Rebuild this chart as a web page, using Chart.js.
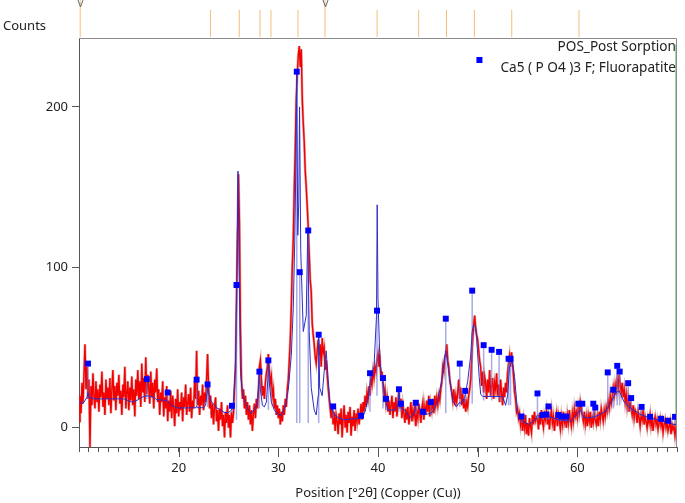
<!DOCTYPE html>
<html>
<head>
<meta charset="utf-8">
<script src="https://cdn.jsdelivr.net/npm/chart.js@4.4.0/dist/chart.umd.min.js"></script>
<style>
    html, body { margin: 0; padding: 0; background: #fff; }
    #wrap { width: 685px; height: 503px; }
</style>
</head>
<body>
<div id="wrap"><canvas id="xrd_chart" width="685" height="503"></canvas></div>
<script>
/////////////////////////////////// DATA ///////////////////////////////////

// observed scan, 10.0 .. 70.0 °2θ in 0.1 steps (one row per degree)
const scanStart = 10;
const scanStep = 0.1;
const observedCounts = [
    4, 20, 9, 28, 15, 33, 52, 24, 38, 18,
    30, -12, 26, 14, 34, 20, 12, 29, 16, 24,
    10, 27, 19, 35, 13, 22, 8, 30, 18, 25,
    14, 31, 9, 24, 36, 17, 26, 11, 28, 20,
    33, 15, 23, 8, 27, 19, 38, 12, 22, 29,
    11, 25, 17, 32, 14, 24, 7, 30, 20, 36,
    18, 29, 13, 40, 22, 31, 16, 44, 21, 33,
    25, 15, 35, 19, 28, 12, 30, 22, 37, 16,
    24, 8, 22, 16, 29, 7, 19, 12, 26, 4,
    17, 10, 23, 6, 20, 13, 1, 18, 9, 24,
    7, 16, 11, 22, 4, 19, 13, 27, 8, 15,
    21, 10, 25, 6, 17, 12, 29, 18, 48, 14,
    23, 8, 20, 14, 27, 11, 22, 16, 30, 46,
    26, 12, 20, 6, 15, 2, 13, 19, 4, 11,
    -2, 12, 5, 16, 1, 8, -6, 10, 3, 14,
    0, 8, -6, 10, 3, 9, 24, 36, 75, 118,
    158, 128, 62, 30, 18, 24, 12, 20, 8, 16,
    5, 14, 2, 11, -2, 9, 15, 6, 18, 12,
    22, 38, 42, 30, 20, 26, 18, 28, 34, 38,
    46, 36, 28, 32, 20, 24, 12, 18, 8, 14,
    6, 12, 2, 10, 4, 14, 8, 18, 13, 24,
    30, 42, 55, 75, 100, 118, 150, 175, 205, 220,
    232, 238, 225, 236, 205, 190, 178, 160, 150, 138,
    125, 108, 92, 85, 65, 58, 52, 44, 40, 48,
    55, 45, 52, 38, 56, 47, 50, 36, 42, 33,
    25, 18, 12, 6, 14, 2, 10, -2, 8, 4,
    -4, 9, 2, 12, -6, 6, 14, 0, 8, -3,
    10, 3, 13, -5, 7, 1, 11, -2, 9, 4,
    12, 2, 8, 15, 5, 16, 10, 20, 13, 22,
    18, 26, 20, 30, 27, 35, 31, 38, 35, 42,
    46, 38, 42, 30, 35, 26, 20, 24, 15, 19,
    10, 17, 8, 14, 20, 6, 16, 10, 19, 7,
    15, 24, 12, 18, 6, 14, 9, 3, 12, 5,
    13, 2, 9, 16, 4, 11, 7, 14, 1, 10,
    6, 15, 9, 3, 12, 16, 5, 13, 8, 17,
    10, 20, 7, 15, 11, 18, 9, 20, 14, 19,
    14, 20, 17, 24, 28, 38, 35, 44, 46, 52,
    42, 38, 30, 26, 22, 17, 24, 14, 20, 16,
    22, 30, 18, 25, 14, 21, 12, 18, 10, 16,
    13, 20, 24, 30, 42, 55, 64, 70, 62, 58,
    55, 48, 42, 38, 26, 35, 22, 32, 28, 18,
    30, 22, 36, 20, 26, 31, 18, 28, 24, 34,
    20, 27, 16, 30, 22, 14, 25, 19, 28, 22,
    34, 40, 45, 38, 47, 40, 32, 22, 18, 10,
    12, 6, 9, 2, 7, -2, 5, 0, 8, -4,
    3, -5, 6, 1, -3, 8, 2, 10, 4, 6,
    6, -1, 9, 2, 11, 4, 0, 8, 5, 10,
    2, 9, -1, 6, 11, 3, 7, -2, 5, 9,
    1, 8, 4, -1, 7, 2, 10, 3, 6, 0,
    8, 3, 11, 5, 1, 9, 4, 12, 7, 10,
    6, 13, 9, 16, 12, 8, 4, 10, 2, 7,
    1, 8, 4, 10, 0, 6, 3, 9, 5, 2,
    7, 1, 10, 5, 12, 8, 4, 11, 7, 13,
    10, 16, 12, 20, 15, 19, 25, 20, 27, 23,
    30, 25, 33, 27, 22, 28, 19, 24, 16, 21,
    13, 18, 10, 16, 12, 8, 14, 6, 11, 9,
    3, 10, 6, 1, 8, 5, 11, 2, 7, 4,
    0, 6, 3, 8, 1, 5, -2, 4, 7, 2,
    5, -1, 3, 6, 1, 4, -3, 2, 5, 0,
    3, -2, 1, 4, -4, 2, -1, 1, -5, 0,
    -2
];

// calculated profile
const calcPos = [
    10.0, 10.3, 10.5, 10.8, 10.9, 11.0, 11.5, 12.5, 14.5, 15.3,
    15.8, 16.3, 16.8, 17.5, 17.8, 18.8, 19.3, 19.9, 21.7, 21.8,
    21.9, 22.5, 22.7, 22.85, 22.9, 23.0, 23.2, 23.8, 24.6, 25.0,
    25.3, 25.5, 25.7, 25.85, 25.95, 26.05, 26.2, 26.4, 26.6, 27.0,
    27.3, 27.7, 27.9, 28.05, 28.1, 28.2, 28.4, 28.6, 28.8, 28.95,
    29.0, 29.1, 29.3, 29.6, 30.0, 30.3, 30.7, 31.0, 31.3, 31.5,
    31.65, 31.75, 31.84, 31.95, 32.05, 32.13, 32.25, 32.5, 32.8, 32.95,
    33.1, 33.3, 33.6, 33.8, 34.0, 34.05, 34.15, 34.4, 34.6, 34.8,
    35.0, 35.2, 35.5, 35.8, 36.5, 37.5, 38.2, 38.3, 38.4, 38.7,
    39.0, 39.25, 39.6, 39.85, 39.92, 40.0, 40.2, 40.5, 40.75, 41.0,
    41.7, 42.0, 42.1, 42.2, 42.4, 42.7, 43.2, 43.7, 43.8, 44.0,
    44.5, 45.3, 45.6, 46.0, 46.4, 46.65, 46.8, 46.95, 47.2, 47.5,
    47.85, 48.2, 48.35, 48.7, 49.0, 49.3, 49.45, 49.6, 49.8, 49.9,
    50.15, 50.3, 50.5, 52.5, 52.8, 53.0, 53.2, 53.45, 53.7, 54.0,
    54.5, 55.1, 55.8, 56.0, 56.3, 56.6, 57.1, 58.1, 59.4, 60.1,
    60.3, 60.6, 61.0, 61.8, 62.8, 63.4, 63.9, 64.2, 64.7, 65.4,
    66.4, 67.4, 68.7, 69.7, 70.0
];
const calcCounts = [
    17, 15, 16, 19, 22, 19, 18, 18, 18, 16,
    17, 19, 20, 19, 17.5, 17, 14, 12.3, 12.5, 13.5,
    12.5, 12.5, 14, 22, 27, 22, 17, 12.5, 9.5, 9.5,
    11, 16, 40, 100, 160, 110, 35, 22, 17, 11,
    9, 12, 17, 28, 34, 24, 14, 13, 16, 30,
    42, 28, 16, 11, 8, 8, 13, 24, 45, 75,
    117, 160, 222, 120, 140, 200, 110, 60, 70, 123,
    60, 25, 11, 8, 20, 58, 25, 20, 35, 48,
    30, 14, 10, 7, 5, 5.5, 6, 8, 6, 10,
    18, 30, 38, 70, 139, 80, 40, 29, 17, 11,
    11, 15, 22, 16, 12, 11, 6, 10, 15, 14,
    8, 9, 11, 17, 30, 42, 48, 42, 30, 17,
    13, 16, 15, 19, 29, 45, 60, 64, 63, 55,
    32, 21, 19.5, 19.5, 14, 20, 38, 42, 32, 10,
    4, 2, 5, 8, 6, 8, 7, 5, 4, 10,
    11, 7, 6, 7, 10, 16, 22, 23, 16, 12,
    8, 6, 4, 2, 2
];

// reference pattern: Ca5 ( P O4 )3 F; Fluorapatite
const refPos = [
    10.9, 16.8, 18.9, 21.8, 22.9, 25.35, 25.8, 28.1, 29.0, 31.85,
    32.15, 33.0, 34.05, 35.5, 38.3, 39.2, 39.9, 40.5, 40.8, 42.1,
    42.3, 43.8, 44.5, 45.3, 46.8, 48.2, 48.75, 49.45, 50.6, 51.4,
    52.15, 53.1, 53.3, 54.4, 56.0, 56.5, 56.9, 57.1, 58.1, 58.4,
    58.9, 60.1, 60.5, 61.6, 61.8, 63.05, 63.6, 64.0, 64.25, 65.1,
    65.4, 66.45, 67.3, 68.4, 69.1, 69.8
];
const refCounts = [
    40, 30.3, 22, 30, 27, 13.7, 89, 35, 42, 222,
    97, 123, 58, 13.3, 7.5, 34, 73, 31, 18, 24,
    15, 15.6, 10, 16, 68, 40, 23, 85.5, 51.5, 48.6,
    47.3, 43, 43, 7, 21.4, 8, 8.3, 13.3, 8, 7,
    7, 15, 15, 15, 12.6, 34.5, 23.7, 38.6, 35, 27.8,
    18.5, 13, 6.8, 5.6, 4.4, 6.8
];
const refBase = [
    18, 18, 16, 12, 13, 9, 5, 12, 11, 3,
    3, 3, 3, 6, 5, 10, 20, 12, 11, 10,
    10, 8, 7, 8, 9, 13, 15, 15, 17, 17,
    17, 14, 14, 3, 5, 5, 5, 5, 4, 4,
    4, 6, 6, 6, 6, 9, 12, 14, 14, 10,
    10, 7, 5, 4, 3, 2
];

// second phase peak list (orange ticks above the plot)
const phase2Pos = [10.12, 23.2, 26.08, 28.16, 29.26, 31.97, 34.68, 39.91, 44.08, 46.87, 49.67, 53.42, 60.17];
const arrowPos = [10.12, 34.68];

const markerPos = 69.93;

const xTickLabels = [20, 30, 40, 50, 60];
const yTickLabels = [0, 100, 200];

const sampleName = 'POS_Post Sorption';
const phaseName = 'Ca5 ( P O4 )3 F; Fluorapatite';


/////////////////////////////////// BUILD DATASETS ///////////////////////////////////

const FONT = '"Noto Sans", "DejaVu Sans", sans-serif';
const STRIP_LOW = 243.6;
const STRIP_HIGH = 260.5;
const STRIP_TOP = 267;

const observed = observedCounts.map((c, i) => ({ x: scanStart + i * scanStep, y: c }));
const calculated = calcPos.map((p, i) => ({ x: p, y: calcCounts[i] }));
const refMarkers = refPos.map((p, i) => ({ x: p, y: refCounts[i] }));
const refSticks = refPos.flatMap((p, i) => [{ x: p, y: refBase[i] }, { x: p, y: refCounts[i] }, { x: p, y: null }]);
const phase2Ticks = phase2Pos.flatMap(p => [
    { x: p, y: STRIP_LOW },
    { x: p, y: arrowPos.includes(p) ? STRIP_TOP : STRIP_HIGH },
    { x: p, y: null }
]);
const greenLine = [{ x: markerPos, y: -1 }, { x: markerPos, y: 239 }];


/////////////////////////////////// PLUGIN: FRAME, LABELS, LEGEND ///////////////////////////////////

const xrdDecor = {
    id: 'xrdDecor',
    afterDraw(chart) {
        const { ctx, chartArea: a, scales } = chart;
        ctx.save();

        // top + right frame
        ctx.strokeStyle = '#8a8a8a';
        ctx.lineWidth = 1;
        ctx.beginPath();
        ctx.moveTo(a.left, a.top + 0.5);
        ctx.lineTo(a.right - 0.5, a.top + 0.5);
        ctx.lineTo(a.right - 0.5, a.bottom);
        ctx.stroke();

        // longer ticks at labelled positions
        ctx.strokeStyle = '#555';
        ctx.beginPath();
        xTickLabels.forEach(v => {
            const x = Math.round(scales.x.getPixelForValue(v)) + 0.5;
            ctx.moveTo(x, a.bottom);
            ctx.lineTo(x, a.bottom + 10);
        });
        ctx.stroke();

        // little "v" arrows over the strip
        ctx.strokeStyle = '#666';
        ctx.beginPath();
        arrowPos.forEach(p => {
            const x = Math.round(scales.x.getPixelForValue(p)) + 0.5;
            ctx.moveTo(x - 2.5, 0);
            ctx.lineTo(x, 7);
            ctx.lineTo(x + 2.5, 0);
        });
        ctx.stroke();

        // texts
        ctx.fillStyle = '#222';
        ctx.font = '13px ' + FONT;
        ctx.textBaseline = 'middle';
        ctx.textAlign = 'left';
        ctx.fillText('Counts', 3, 26);

        ctx.font = '13.6px ' + FONT;
        ctx.textAlign = 'right';
        ctx.fillText(sampleName, a.right - 1, 47);
        ctx.fillText(phaseName, a.right - 1, 68);

        const w = ctx.measureText(phaseName).width;
        ctx.fillStyle = '#0000ff';
        ctx.fillRect(a.right - 1 - w - 24, 57, 6, 6);

        ctx.restore();
    }
};


/////////////////////////////////// CREATING CHART ///////////////////////////////////

const ctx_xrd = document.getElementById('xrd_chart');

const xrd_chart = new Chart(ctx_xrd, {
    type: 'scatter',
    data: {
        datasets: [
            {
                label: 'Fluorapatite',
                data: refMarkers,
                pointStyle: 'rect',
                pointRadius: 4.2,
                backgroundColor: '#0000ff',
                borderColor: '#0000ff',
                borderWidth: 0,
                order: 0
            },
            {
                label: 'calculated',
                data: calculated,
                showLine: true,
                pointRadius: 0,
                borderColor: 'rgb(45, 45, 200)',
                borderWidth: 1,
                order: 1
            },
            {
                label: 'sticks',
                data: refSticks,
                showLine: true,
                spanGaps: false,
                pointRadius: 0,
                borderColor: 'rgba(110, 115, 215, 0.6)',
                borderWidth: 1.5,
                order: 2
            },
            {
                label: sampleName,
                data: observed,
                showLine: true,
                pointRadius: 0,
                borderColor: 'rgb(245, 0, 0)',
                borderWidth: 1.4,
                order: 3
            },
            {
                label: sampleName + ' (halo)',
                data: observed,
                showLine: true,
                pointRadius: 0,
                borderColor: 'rgba(185, 60, 60, 0.45)',
                borderWidth: 2.6,
                order: 4
            },
            {
                label: 'phase 2',
                data: phase2Ticks,
                showLine: true,
                spanGaps: false,
                pointRadius: 0,
                borderColor: 'rgb(242, 190, 125)',
                borderWidth: 1,
                clip: false,
                order: 5
            },
            {
                label: 'marker',
                data: greenLine,
                showLine: true,
                pointRadius: 0,
                borderColor: 'rgb(120, 205, 120)',
                borderWidth: 2,
                order: 6
            }
        ]
    },
    options: {
        responsive: false,
        animation: false,
        events: [],
        layout: { padding: { top: 38, right: 2, left: 0, bottom: 0 } },
        plugins: {
            legend: { display: false },
            tooltip: { enabled: false }
        },
        scales: {
            x: {
                type: 'linear',
                min: 10,
                max: 70,
                offset: false,
                afterBuildTicks: scale => {
                    const t = [];
                    for (let v = 10; v <= 70; v++) t.push({ value: v });
                    scale.ticks = t;
                },
                afterFit: scale => { scale.height = 56; },
                grid: { drawOnChartArea: false, tickLength: 5, tickColor: '#555' },
                border: { color: '#555', width: 1 },
                ticks: {
                    autoSkip: false,
                    maxRotation: 0,
                    padding: 8,
                    color: '#222',
                    font: { family: FONT, size: 13 },
                    callback: v => xTickLabels.includes(v) ? String(v) : ''
                },
                title: {
                    display: true,
                    text: 'Position [°2θ] (Copper (Cu))',
                    color: '#222',
                    font: { family: FONT, size: 13 },
                    padding: { top: 0, bottom: 2 }
                }
            },
            y: {
                type: 'linear',
                min: -12,
                max: 243,
                afterBuildTicks: scale => { scale.ticks = yTickLabels.map(v => ({ value: v })); },
                afterFit: scale => { scale.width = 79; },
                grid: { drawOnChartArea: false, tickLength: 7, tickColor: '#555' },
                border: { color: '#555', width: 1 },
                ticks: {
                    padding: 4,
                    color: '#222',
                    font: { family: FONT, size: 13 }
                }
            }
        }
    },
    plugins: [xrdDecor]
});
</script>
</body>
</html>
